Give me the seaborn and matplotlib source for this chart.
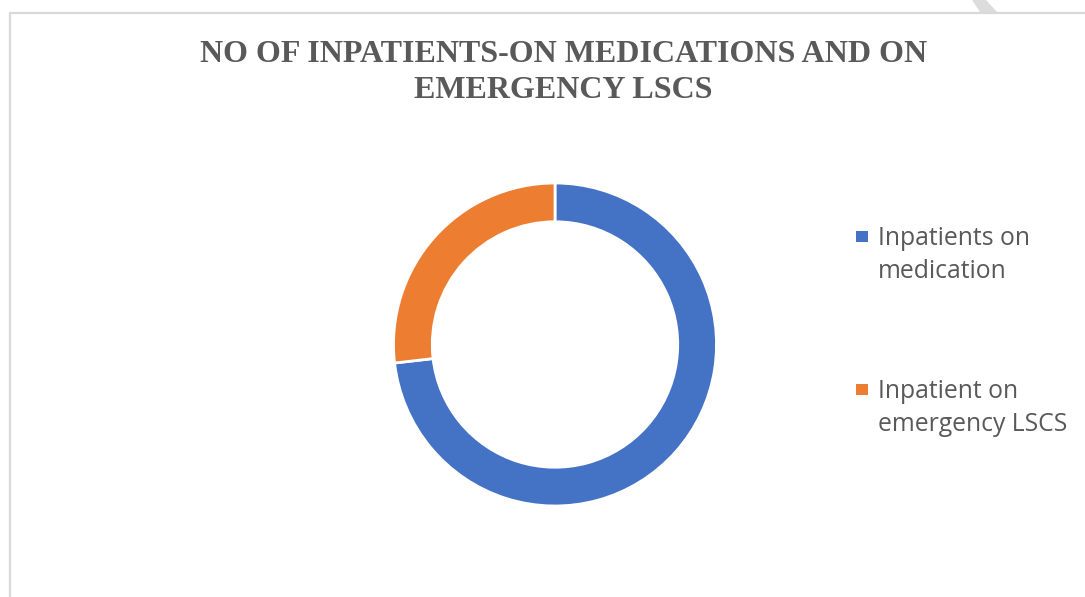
import matplotlib
matplotlib.use("Agg")
import matplotlib.pyplot as plt
import seaborn as sns
from matplotlib.patches import Rectangle, Polygon
from matplotlib.lines import Line2D

sns.set_theme(style="white")

title_lines = ["NO OF INPATIENTS-ON MEDICATIONS AND ON", "EMERGENCY LSCS"]
categories = ["Inpatients on\nmedication", "Inpatient on\nemergency LSCS"]
values = [30, 11]
colors = ["#4472C4", "#ED7D31"]

W, H = 1085, 597
fig = plt.figure(figsize=(W / 100, H / 100), dpi=100)
fig.patch.set_facecolor("white")

def fx(px):
    return px / W

def fy(py):
    return (H - py) / H

# chart frame (top and left border lines)
fig.add_artist(Line2D([fx(9.5), fx(1085)], [fy(12.5), fy(12.5)], color="#d9d9d9", lw=1.6))
fig.add_artist(Line2D([fx(9.5), fx(9.5)], [fy(12.5), fy(597)], color="#d9d9d9", lw=1.6))
fig.add_artist(Polygon([(fx(972), fy(0)), (fx(986), fy(0)), (fx(997), fy(12)), (fx(980), fy(12))],
                       closed=True, color="#dcdcdc", lw=0))

# donut
cx, cy, R = 555, 344.5, 161.5
ax = fig.add_axes([fx(cx - R), fy(cy + R), 2 * R / W, 2 * R / H])
ax.pie(values, colors=colors, startangle=90, counterclock=False, radius=1.0,
       wedgeprops=dict(width=0.24, edgecolor="white", linewidth=2))
ax.set_xlim(-1.0, 1.0)
ax.set_ylim(-1.0, 1.0)
ax.set_aspect("equal")
ax.axis("off")

# title
for i, line in enumerate(title_lines):
    fig.text(fx(563.5), fy(62 + 36 * i), line, ha="center", va="baseline",
             family="Liberation Serif", weight="bold", fontsize=23.05, color="#595959")

# legend
entry_y = [245, 398]
for lab, col, by in zip(categories, colors, entry_y):
    fig.add_artist(Rectangle((fx(856), fy(by - 3)), 12 / W, 11 / H, color=col, lw=0))
    for j, part in enumerate(lab.split("\n")):
        fig.text(fx(878), fy(by + 33 * j), part, ha="left", va="baseline",
                 family="Open Sans", fontsize=17.8, color="#595959")

fig.savefig("out.png", dpi=100, facecolor="white")
